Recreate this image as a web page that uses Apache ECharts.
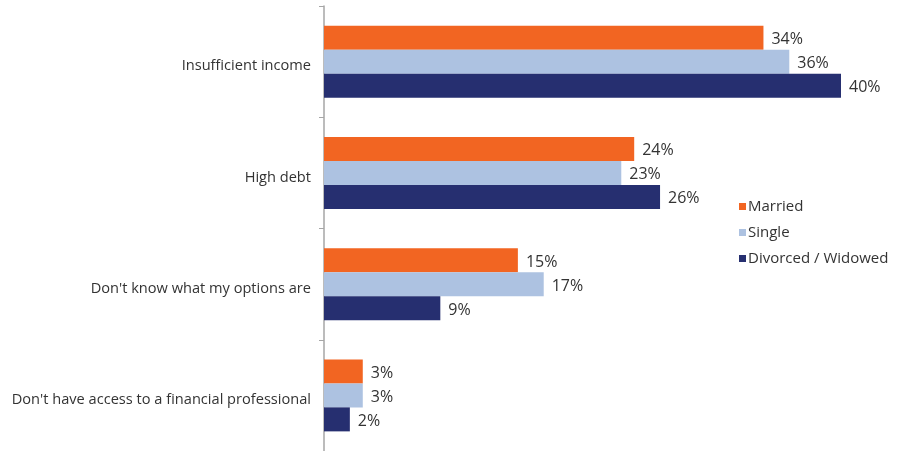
<!DOCTYPE html>
<html>
<head>
<meta charset="utf-8">
<script src="https://cdn.jsdelivr.net/npm/echarts@6/dist/echarts.min.js"></script>
<style>
  html, body { margin: 0; padding: 0; background: #fff; }
  #chart { width: 899px; height: 451px; }
</style>
</head>
<body>
<div id="chart"></div>
<script>
// Reasons given, by marital status (percent of respondents)
const categories = [
  'Insufficient income',
  'High debt',
  "Don't know what my options are",
  "Don't have access to a financial professional"
];
const married = [34, 24, 15, 3];
const single = [36, 23, 17, 3];
const divorcedWidowed = [40, 26, 9, 2];

const seriesNames = ['Married', 'Single', 'Divorced / Widowed'];
const seriesColors = ['#F26522', '#ADC2E1', '#262F70'];
const seriesData = [married, single, divorcedWidowed];

const font = 'Open Sans, Noto Sans, sans-serif';

const chart = echarts.init(document.getElementById('chart'));
chart.setOption({
  animation: false,
  textStyle: { fontFamily: font },
  grid: { left: 324, top: 6, width: 517, height: 447, containLabel: false },
  legend: {
    orient: 'vertical',
    left: 734,
    top: 194,
    itemWidth: 7,
    itemHeight: 7,
    itemGap: 11,
    icon: 'rect',
    data: seriesNames,
    textStyle: { fontSize: 15, color: '#333', fontFamily: font, padding: [0, 0, 0, -3] }
  },
  xAxis: {
    type: 'value',
    min: 0,
    max: 40,
    show: false
  },
  yAxis: {
    type: 'category',
    inverse: true,
    data: categories,
    axisLine: { show: true, lineStyle: { color: '#A6A6A6', width: 1.5 } },
    axisTick: { show: true, length: 5, lineStyle: { color: '#A6A6A6', width: 1 } },
    axisLabel: {
      margin: 13,
      formatter: '{c|{value}}',
      rich: {
        c: { color: '#333', fontSize: 14.6, fontFamily: font, padding: [9, 0, 0, 0] }
      }
    },
    splitLine: { show: false }
  },
  series: seriesData.map((d, i) => ({
    name: seriesNames[i],
    type: 'bar',
    data: d,
    barWidth: 24,
    barGap: '0%',
    itemStyle: { color: seriesColors[i] },
    label: {
      show: true,
      position: 'right',
      distance: 8,
      offset: [0, 2],
      formatter: '{c}%',
      color: '#333',
      fontSize: 16,
      fontFamily: font
    }
  }))
});
</script>
</body>
</html>
